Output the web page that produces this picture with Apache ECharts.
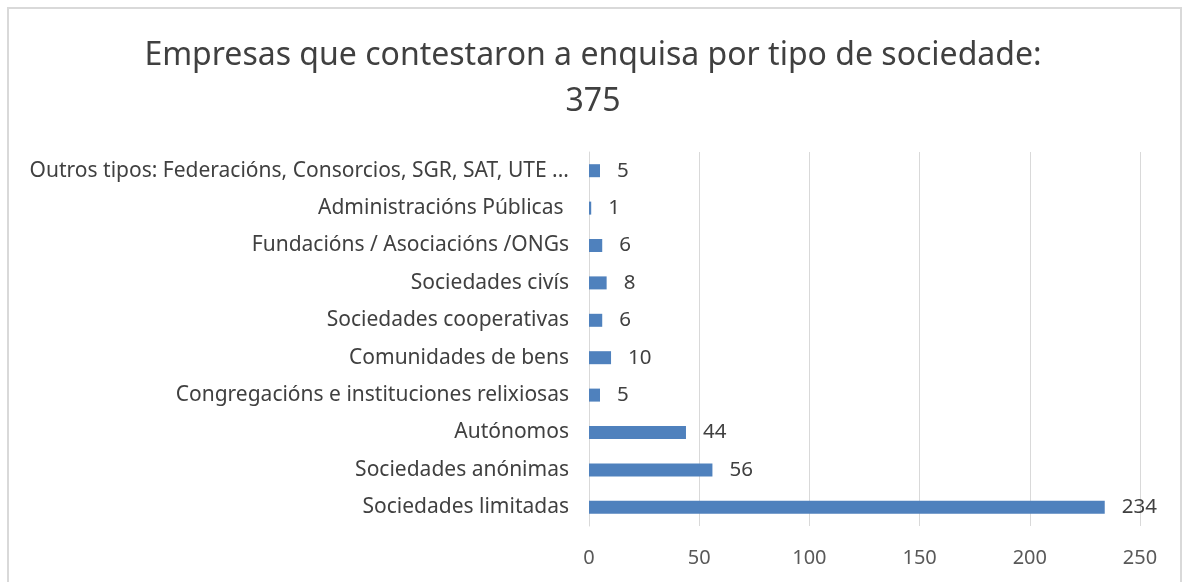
<!DOCTYPE html>
<html>
<head>
<meta charset="utf-8">
<script src="https://cdn.jsdelivr.net/npm/echarts@6/dist/echarts.min.js"></script>
<style>
	html, body { margin: 0; padding: 0; background: #fff; }
	#frame { position: absolute; left: 7px; top: 7px; width: 1175px; height: 590px; border: 2px solid #d9d9d9; box-sizing: border-box; }
	#chart { position: absolute; left: 0; top: 0; width: 1186px; height: 582px; }
</style>
</head>
<body>
<div id="frame"></div>
<div id="chart"></div>
<script>
'use strict';
// categories from bottom to top (as ECharts lays out a category y axis)
var categories = [
	'Sociedades limitadas',
	'Sociedades anónimas',
	'Autónomos',
	'Congregacións e instituciones relixiosas',
	'Comunidades de bens',
	'Sociedades cooperativas',
	'Sociedades civís',
	'Fundacións / Asociacións /ONGs',
	'Administracións Públicas ',
	'Outros tipos: Federacións, Consorcios, SGR, SAT, UTE ...'
];
var values = [234, 56, 44, 5, 10, 6, 8, 6, 1, 5];
var xTicks = [0, 50, 100, 150, 200, 250];

var font = '"Noto Sans", "Open Sans", sans-serif';

var option = {
	animation: false,
	title: {
		text: 'Empresas que contestaron a enquisa por tipo de sociedade:\n375',
		left: 'center',
		top: 28,
		textStyle: {
			fontFamily: font,
			fontSize: 32,
			fontWeight: 'normal',
			color: '#404040',
			lineHeight: 46
		}
	},
	grid: {
		left: 589,
		right: 46,
		top: 152,
		bottom: 56,
		containLabel: false
	},
	xAxis: {
		type: 'value',
		min: xTicks[0],
		max: xTicks[xTicks.length - 1],
		interval: 50,
		axisLine: { show: false },
		axisTick: { show: false },
		axisLabel: {
			fontFamily: font,
			fontSize: 20,
			color: '#595959',
			margin: 22
		},
		splitLine: {
			show: true,
			lineStyle: { color: '#d9d9d9', width: 1 }
		}
	},
	yAxis: {
		type: 'category',
		data: categories,
		axisLine: { show: true, lineStyle: { color: '#d9d9d9' } },
		axisTick: { show: false },
		axisLabel: {
			fontFamily: font,
			fontSize: 21,
			color: '#404040',
			margin: 20
		}
	},
	series: [{
		type: 'bar',
		data: values,
		barWidth: 13,
		itemStyle: { color: '#4f81bd' },
		label: {
			show: true,
			position: 'right',
			distance: 17,
			fontFamily: font,
			fontSize: 20.5,
			color: '#404040'
		}
	}]
};

var _chart = echarts.init(document.getElementById('chart'));
_chart.setOption(option);
</script>
</body>
</html>
